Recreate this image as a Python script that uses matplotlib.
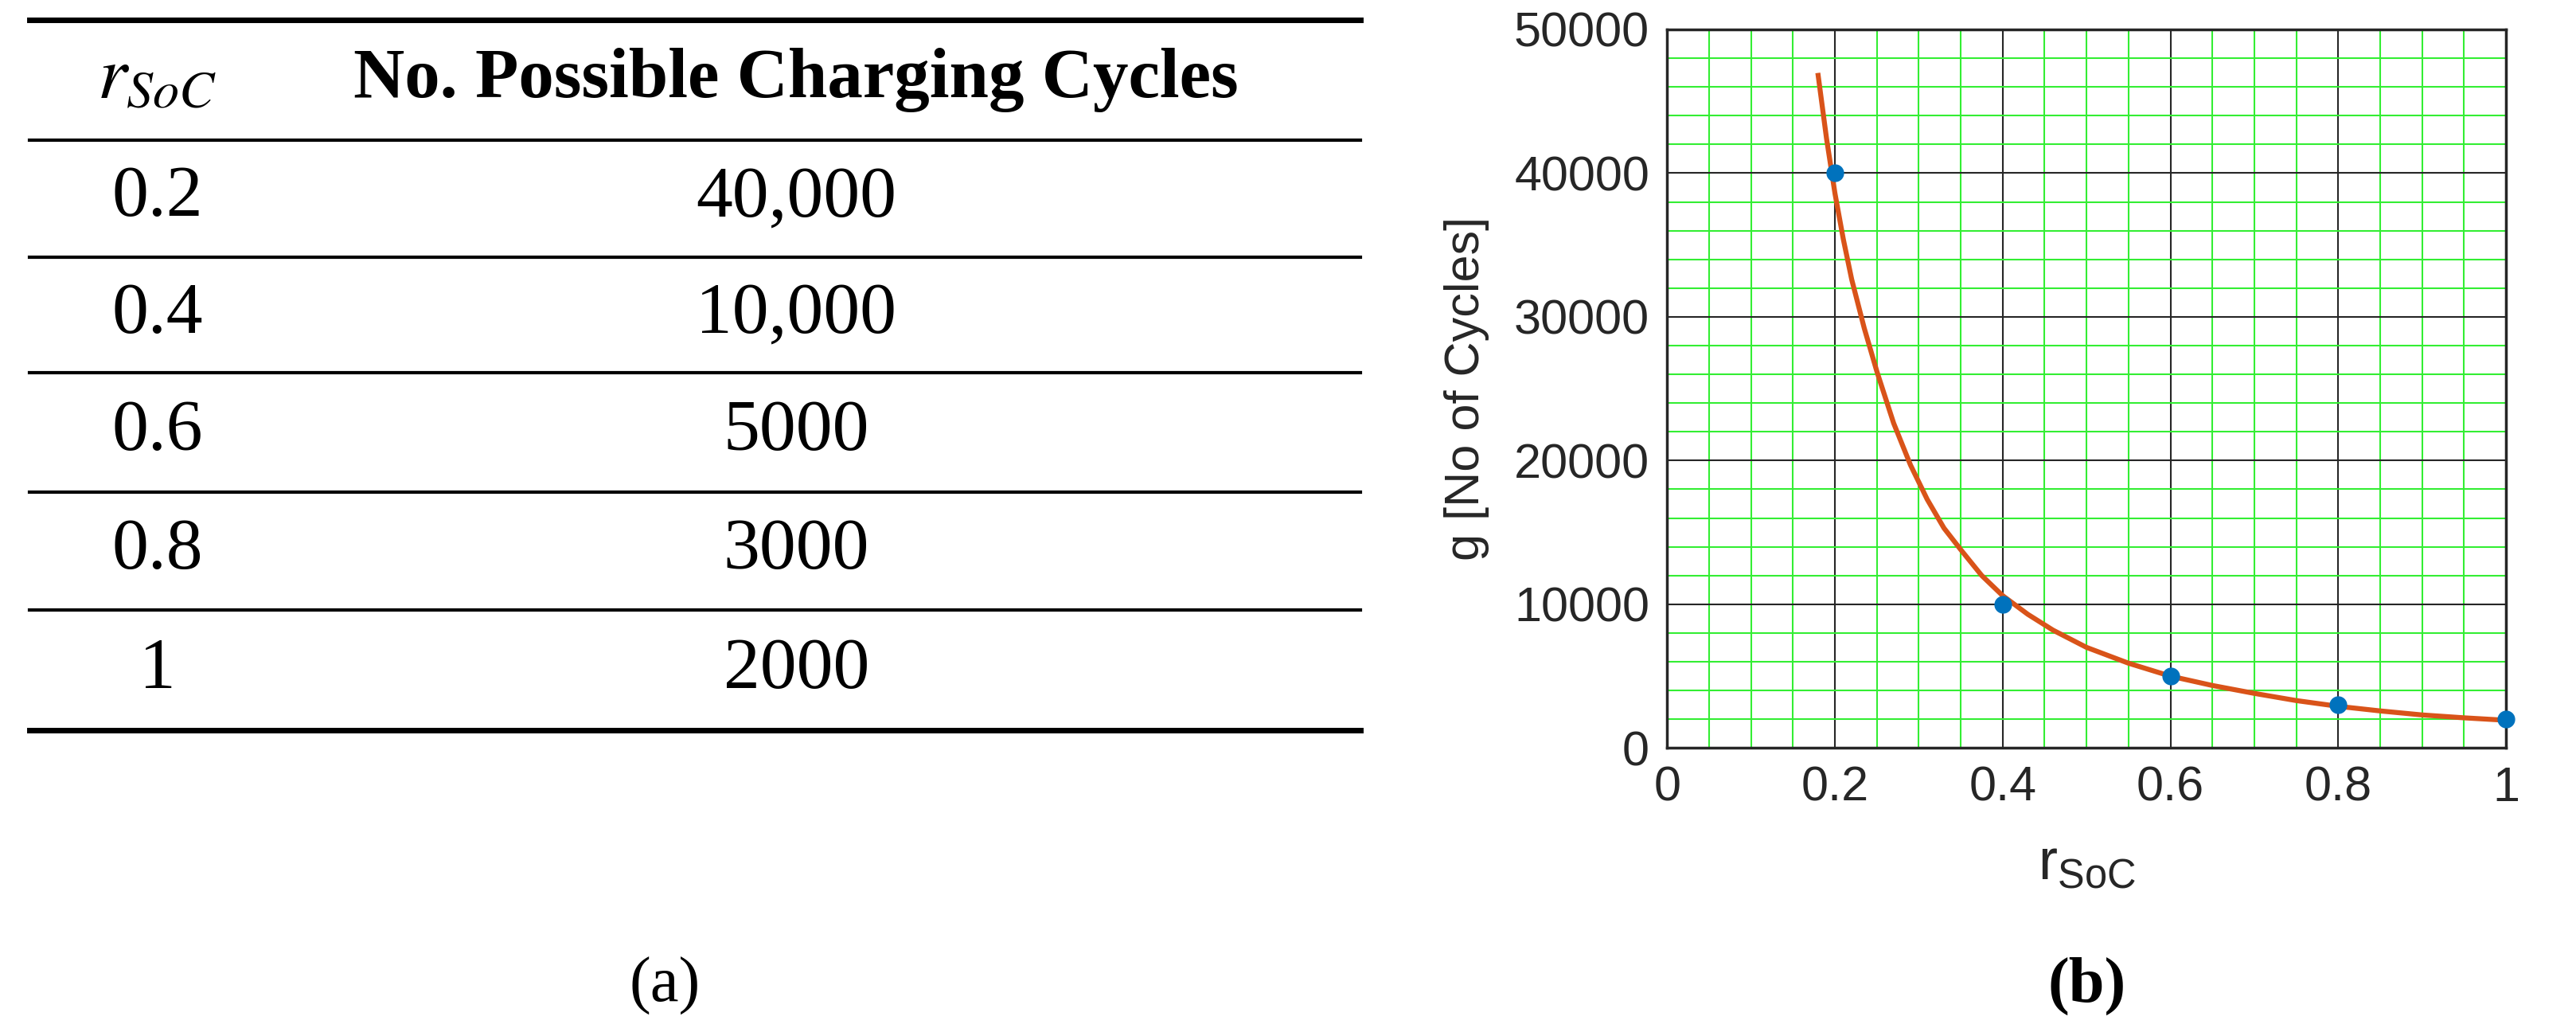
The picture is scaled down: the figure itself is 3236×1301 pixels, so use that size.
import matplotlib
matplotlib.use("Agg")
import matplotlib.pyplot as plt
from matplotlib.ticker import MultipleLocator
from matplotlib.lines import Line2D

# Data
r_soc = [0.2, 0.4, 0.6, 0.8, 1.0]
cycles = [40000, 10000, 5000, 3000, 2000]
table_r = ["0.2", "0.4", "0.6", "0.8", "1"]
table_c = ["40,000", "10,000", "5000", "3000", "2000"]
curve_x = [0.18, 0.19, 0.2, 0.21, 0.22, 0.235, 0.25, 0.27, 0.29, 0.31, 0.33, 0.35, 0.375, 0.4,
           0.43, 0.46, 0.5, 0.55, 0.6, 0.65, 0.7, 0.75, 0.8, 0.85, 0.9, 0.95, 1.0]
curve_y = [46800, 42400, 38600, 35400, 32600, 29200, 26200, 22600, 19700, 17300, 15300, 13800,
           12000, 10600, 9300, 8200, 7000, 5900, 5000, 4350, 3800, 3300, 2900, 2580, 2300, 2100, 1930]

fig = plt.figure(figsize=(32.37, 13.01), dpi=100)

# Table (a)
serif = "Liberation Serif"
line_y = [0.981, 0.865, 0.752, 0.640, 0.525, 0.411, 0.295]
x0, x1 = 0.0115, 0.528
for i, y in enumerate(line_y):
    lw = 5 if i in (0, len(line_y) - 1) else 3
    fig.add_artist(Line2D([x0, x1], [y, y], color="black", lw=lw, transform=fig.transFigure))
cx1, cx2 = 0.061, 0.309
hy = (line_y[0] + line_y[1]) / 2
fig.text(cx1, hy, r"$r_{SoC}$", ha="center", va="center", fontsize=68, family=serif,
         math_fontfamily="stix")
fig.text(cx2, hy, "No. Possible Charging Cycles", ha="center", va="center",
         fontsize=64, fontweight="bold", family=serif)
for i in range(5):
    yc = (line_y[i + 1] + line_y[i + 2]) / 2
    fig.text(cx1, yc, table_r[i], ha="center", va="center", fontsize=66, family=serif)
    fig.text(cx2, yc, table_c[i], ha="center", va="center", fontsize=66, family=serif)
fig.text(0.258, 0.048, "(a)", ha="center", va="center", fontsize=58, family=serif)
fig.text(0.81, 0.048, "(b)", ha="center", va="center", fontsize=58, family=serif, fontweight="bold")

# Plot (b)
ax = fig.add_axes([0.647, 0.278, 0.3255, 0.6936])
ax.set_xlim(0, 1)
ax.set_ylim(0, 50000)
ax.xaxis.set_major_locator(MultipleLocator(0.2))
ax.xaxis.set_minor_locator(MultipleLocator(0.05))
ax.yaxis.set_major_locator(MultipleLocator(10000))
ax.yaxis.set_minor_locator(MultipleLocator(2000))
ax.grid(which="minor", color="#33ee33", lw=1.5)
ax.grid(which="major", color="#262626", lw=1.5)
ax.set_axisbelow(True)
ax.tick_params(which="both", length=0, labelsize=44, pad=16)
ax.set_xticks([0, 0.2, 0.4, 0.6, 0.8, 1.0])
ax.set_xticklabels(["0", "0.2", "0.4", "0.6", "0.8", "1"])
for lab in ax.get_xticklabels() + ax.get_yticklabels():
    lab.set_family("Liberation Sans")
    lab.set_color("#262626")
for s in ax.spines.values():
    s.set_linewidth(2.5)
    s.set_color("#262626")
ax.plot(curve_x, curve_y, color="#D95319", lw=4.5, zorder=3)
ax.plot(r_soc, cycles, "o", color="#0072BD", ms=15, zorder=4, clip_on=False)
ax.set_ylabel("g [No of Cycles]", fontsize=44, family="Liberation Sans", color="#262626", labelpad=22)
ax.set_xlabel(r"r$_{\mathregular{SoC}}$", fontsize=52, family="Liberation Sans", color="#262626", labelpad=25)

fig.savefig("out.png", dpi=100)
